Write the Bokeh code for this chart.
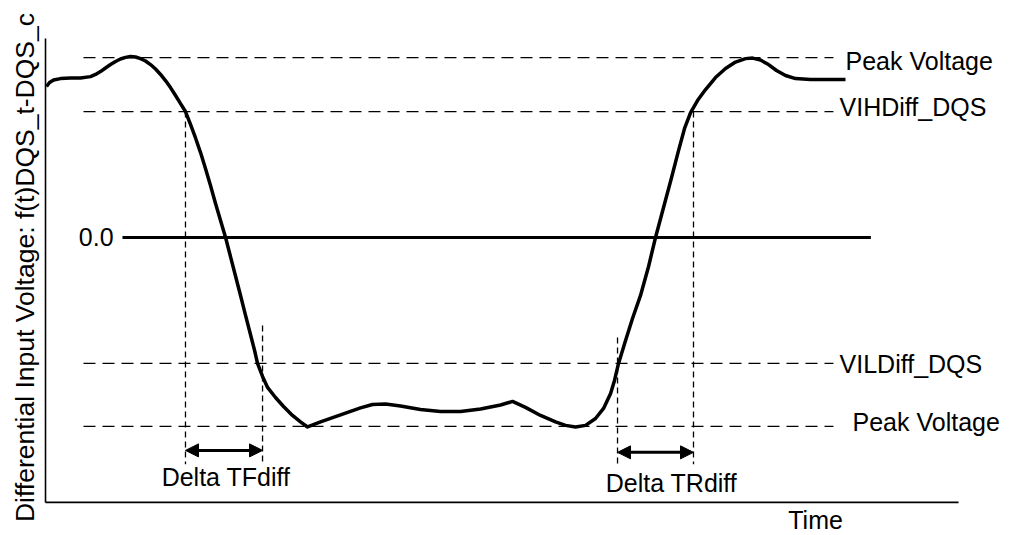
import math
from bokeh.plotting import figure
from bokeh.models import Range1d, Label, Arrow, NormalHead
from bokeh.embed import file_html
from bokeh.resources import INLINE

# ---- data (time in arbitrary units 0..100, voltage in arbitrary units) ----
wave_t = [0.11, 0.44, 0.88, 1.64, 2.74, 3.83, 4.93, 5.48, 6.02, 6.57, 7.12, 7.67, 8.21,
          8.76, 9.31, 9.86, 10.41, 10.95, 11.50, 12.05, 12.60, 13.14, 13.69, 14.24, 14.79,
          15.33, 15.88, 16.43, 16.98, 17.52, 18.07, 18.62, 19.17, 19.72, 20.26, 20.81,
          21.36, 21.91, 22.45, 22.90, 23.22, 23.77, 24.32, 25.19, 26.07, 27.05, 27.93,
          28.70, 30.12, 32.31, 34.50, 35.81, 37.24, 38.88, 41.07, 43.26, 45.46, 47.65,
          49.84, 51.15, 52.57, 54.22, 55.86, 56.96, 58.05, 59.15, 60.24, 61.12, 61.89,
          62.32, 62.76, 63.53, 64.29, 65.17, 66.05, 66.81, 67.69, 68.57, 69.33, 69.99,
          70.65, 71.41, 72.29, 73.38, 74.48, 75.57, 76.67, 77.44, 78.31, 79.19, 80.06,
          81.05, 82.15, 83.79, 85.98, 87.62]
wave_v = [0.839, 0.861, 0.875, 0.883, 0.886, 0.886, 0.894, 0.906, 0.922, 0.942, 0.961,
          0.978, 0.992, 1.001, 1.006, 1.003, 0.994, 0.981, 0.961, 0.936, 0.906, 0.872,
          0.833, 0.789, 0.744, 0.700, 0.628, 0.553, 0.472, 0.383, 0.289, 0.189, 0.094,
          0.0, -0.106, -0.214, -0.322, -0.433, -0.539, -0.628, -0.700, -0.772, -0.833,
          -0.889, -0.939, -0.989, -1.025, -1.053, -1.025, -0.986, -0.947, -0.928, -0.925,
          -0.936, -0.956, -0.967, -0.967, -0.953, -0.931, -0.911, -0.944, -0.989, -1.025,
          -1.044, -1.053, -1.044, -1.006, -0.950, -0.867, -0.794, -0.700, -0.572, -0.450,
          -0.322, -0.161, 0.0, 0.167, 0.333, 0.483, 0.606, 0.694, 0.761, 0.822, 0.889,
          0.939, 0.975, 0.994, 0.997, 0.986, 0.961, 0.928, 0.900, 0.883, 0.878, 0.878,
          0.878]

level_names = ["Peak Voltage", "VIHDiff_DQS", "VILDiff_DQS", "Peak Voltage"]
level_values = [1.0, 0.70, -0.70, -1.05]
level_label_t = [87.62, 86.97, 86.97, 88.39]
level_label_v = [0.983, 0.724, -0.703, -1.025]
level_t_start = 4.16
level_t_end = 86.3

zero_t = [8.43, 90.4]
zero_label = "0.0"

# measurement markers: (time, top voltage, bottom voltage)
tf_marks_t = [15.33, 23.77]
tf_marks_top = [0.70, -0.489]
tr_marks_t = [62.65, 70.97]
tr_marks_top = [-0.556, 0.70]
marks_bottom = -1.26
tf_arrow_v = -1.183
tr_arrow_v = -1.194
delta_labels = ["Delta TFdiff", "Delta TRdiff"]
delta_label_t = [19.77, 68.56]
delta_label_v = [-1.331, -1.364]

# axes extents
axis_t = [0.0, 100.0]
axis_v = [-1.472, 1.106]

ylabel = "Differential Input Voltage: f(t)DQS_t-DQS_c"
ylabel_t, ylabel_v = -2.30, -0.167
xlabel = "Time"
xlabel_t, xlabel_v = 84.34, -1.645

FONT = "Liberation Sans"

p = figure(width=1011, height=535, output_backend="svg", toolbar_location=None,
           x_range=Range1d(-4.93, 105.8), y_range=Range1d(-1.656, 1.317),
           min_border=0)
p.outline_line_color = None
p.grid.visible = False
p.axis.visible = False
p.background_fill_color = "white"
p.border_fill_color = "white"

# axis lines
p.line([axis_t[0], axis_t[0]], axis_v, line_color="black", line_width=1.6)
p.line(axis_t, [axis_v[0], axis_v[0]], line_color="black", line_width=1.6)

# horizontal dashed level lines
for lv in level_values:
    p.line([level_t_start, level_t_end], [lv, lv], line_color="black",
           line_width=1.3, line_dash="12 7")

# zero line
p.line(zero_t, [0, 0], line_color="black", line_width=3)

# vertical dashed markers
for t, top in zip(tf_marks_t + tr_marks_t, tf_marks_top + tr_marks_top):
    p.line([t, t], [top, marks_bottom], line_color="black", line_width=1.3, line_dash="6 4")

# waveform
p.line(wave_t, wave_v, line_color="black", line_width=3.5, line_join="round")

# arrows
for (t0, t1), av in zip([tf_marks_t, tr_marks_t], [tf_arrow_v, tr_arrow_v]):
    p.add_layout(Arrow(x_start=t0, y_start=av, x_end=t1, y_end=av, line_width=3,
                       line_color="black",
                       start=NormalHead(size=13, fill_color="black", line_color="black"),
                       end=NormalHead(size=13, fill_color="black", line_color="black")))

def add_label(txt, x, y, align="left", size="25px", angle=0.0, baseline="middle"):
    p.add_layout(Label(x=x, y=y, text=txt, text_font=FONT, text_font_size=size,
                       text_color="black", text_align=align, text_baseline=baseline,
                       angle=angle))

for name, lt, lv in zip(level_names, level_label_t, level_label_v):
    add_label(name, lt, lv)
add_label(zero_label, 7.45, 0.0, "right")
for name, lt, lv in zip(delta_labels, delta_label_t, delta_label_v):
    add_label(name, lt, lv, "center")
add_label(xlabel, xlabel_t, xlabel_v, "center", baseline="bottom")
add_label(ylabel, ylabel_t, ylabel_v, "center", size="26.5px", angle=math.pi / 2)

open("out.html", "w").write(file_html(p, INLINE))
